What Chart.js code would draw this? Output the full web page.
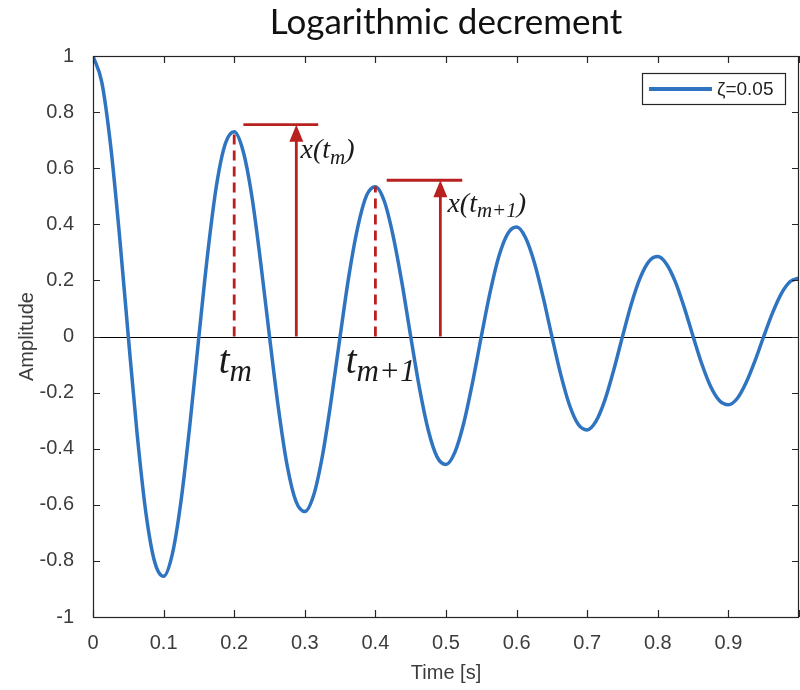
<!DOCTYPE html>
<html>
<head>
<meta charset="utf-8">
<script src="https://cdn.jsdelivr.net/npm/chart.js@4/dist/chart.umd.min.js"></script>
<style>
  html, body { margin: 0; padding: 0; background: #fff; }
  #wrap { width: 800px; height: 690px; }
</style>
</head>
<body>
<div id="wrap"><canvas id="grafico" width="800" height="690"></canvas></div>
<script>
// datos
const tiempo = [0, 0.0125, 0.025, 0.0375, 0.05, 0.0625, 0.075, 0.0875, 0.1, 0.1125,
  0.125, 0.1375, 0.15, 0.1625, 0.175, 0.1875, 0.2, 0.2125, 0.225, 0.2375,
  0.25, 0.2625, 0.275, 0.2875, 0.3, 0.3125, 0.325, 0.3375, 0.35, 0.3625,
  0.375, 0.3875, 0.4, 0.4125, 0.425, 0.4375, 0.45, 0.4625, 0.475, 0.4875,
  0.5, 0.5125, 0.525, 0.5375, 0.55, 0.5625, 0.575, 0.5875, 0.6, 0.6125,
  0.625, 0.6375, 0.65, 0.6625, 0.675, 0.6875, 0.7, 0.7125, 0.725, 0.7375,
  0.75, 0.7625, 0.775, 0.7875, 0.8, 0.8125, 0.825, 0.8375, 0.85, 0.8625,
  0.875, 0.8875, 0.9, 0.9125, 0.925, 0.9375, 0.95, 0.9625, 0.975, 0.9875, 1.0];
const amplitud = [1.00, 0.906, 0.68, 0.361, 0.00, -0.347, -0.63, -0.805, -0.855, -0.774,
  -0.58, -0.308, 0.00, 0.297, 0.54, 0.688, 0.73, 0.662, 0.50, 0.264,
  0.00, -0.253, -0.46, -0.588, -0.624, -0.566, -0.425, -0.225, 0.00, 0.217,
  0.39, 0.503, 0.534, 0.483, 0.36, 0.193, 0.00, -0.185, -0.335, -0.43,
  -0.456, -0.413, -0.31, -0.165, 0.00, 0.158, 0.287, 0.367, 0.39, 0.353,
  0.265, 0.141, 0.00, -0.135, -0.245, -0.314, -0.333, -0.302, -0.227, -0.12,
  0.00, 0.116, 0.209, 0.268, 0.285, 0.258, 0.194, 0.103, 0.00, -0.099,
  -0.179, -0.229, -0.243, -0.221, -0.165, -0.088, 0.00, 0.084, 0.153, 0.196, 0.208];
const serieLabel = 'ζ=0.05';

// anotaciones (en unidades de los ejes)
const picoT = [0.2, 0.4];
const picoX = [0.73, 0.535];
const flechaT = [0.288, 0.492];
const flechaTope = [0.755, 0.557];
const topeDesde = [0.213, 0.416];
const topeHasta = [0.319, 0.523];
const etiquetaX = [['x(t', 'm', ')'], ['x(t', 'm+1', ')']];
const etiquetaXpos = [[0.294, 0.635], [0.502, 0.445]];
const etiquetaT = [['t', 'm'], ['t', 'm+1']];
const etiquetaTpos = [[0.178, -0.13], [0.358, -0.13]];

const rojo = '#b8211f';
const azul = '#2f74c0';
const gris = '#3c3c3c';
const fuenteEje = '"Liberation Sans Narrow", "Liberation Sans", Arial, sans-serif';
const fuenteSerif = '"Liberation Serif", "DejaVu Serif", serif';

function fmt(v) {
  return String(Math.round(v * 10) / 10);
}

// texto con subindice
function textoSub(ctx, partes, x, y, tam, tamSub) {
  ctx.font = 'italic ' + tam + 'px ' + fuenteSerif;
  ctx.fillText(partes[0], x, y);
  x += ctx.measureText(partes[0]).width;
  ctx.font = 'italic ' + tamSub + 'px ' + fuenteSerif;
  ctx.fillText(partes[1], x, y + tam * 0.2);
  x += ctx.measureText(partes[1]).width;
  if (partes[2]) {
    ctx.font = 'italic ' + tam + 'px ' + fuenteSerif;
    ctx.fillText(partes[2], x, y);
  }
}

const marcoPlugin = {
  id: 'marco',
  beforeDatasetsDraw(chart) {
    const { ctx, chartArea: a, scales: { y } } = chart;
    ctx.save();
    // linea del cero
    ctx.strokeStyle = '#000';
    ctx.lineWidth = 1;
    ctx.beginPath();
    ctx.moveTo(a.left, Math.round(y.getPixelForValue(0)) + 0.5);
    ctx.lineTo(a.right, Math.round(y.getPixelForValue(0)) + 0.5);
    ctx.stroke();
    ctx.restore();
  },
  afterDatasetsDraw(chart) {
    const { ctx, chartArea: a, scales: { x, y } } = chart;
    ctx.save();
    ctx.strokeStyle = '#262626';
    ctx.lineWidth = 1.2;
    ctx.strokeRect(a.left + 0.5, a.top + 0.5, a.right - a.left - 1, a.bottom - a.top);
    const largo = 7;
    ctx.beginPath();
    x.ticks.forEach(t => {
      const px = Math.round(x.getPixelForValue(t.value)) + 0.5;
      ctx.moveTo(px, a.bottom); ctx.lineTo(px, a.bottom - largo);
      ctx.moveTo(px, a.top); ctx.lineTo(px, a.top + largo);
    });
    y.ticks.forEach(t => {
      const py = Math.round(y.getPixelForValue(t.value)) + 0.5;
      ctx.moveTo(a.left, py); ctx.lineTo(a.left + largo, py);
      ctx.moveTo(a.right, py); ctx.lineTo(a.right - largo, py);
    });
    ctx.stroke();

    // anotaciones rojas
    ctx.strokeStyle = rojo;
    ctx.fillStyle = rojo;
    ctx.lineWidth = 2.8;
    ctx.setLineDash([10, 6]);
    picoT.forEach((t, i) => {
      const px = x.getPixelForValue(t);
      ctx.beginPath();
      ctx.moveTo(px, y.getPixelForValue(0));
      ctx.lineTo(px, y.getPixelForValue(picoX[i]));
      ctx.stroke();
    });
    ctx.setLineDash([]);
    flechaT.forEach((t, i) => {
      const px = x.getPixelForValue(t);
      const pTop = y.getPixelForValue(flechaTope[i]);
      ctx.beginPath();
      ctx.moveTo(px, y.getPixelForValue(0));
      ctx.lineTo(px, pTop + 10);
      ctx.stroke();
      ctx.beginPath();
      ctx.moveTo(px, pTop);
      ctx.lineTo(px - 7, pTop + 17);
      ctx.lineTo(px + 7, pTop + 17);
      ctx.closePath();
      ctx.fill();
      ctx.beginPath();
      ctx.moveTo(x.getPixelForValue(topeDesde[i]), pTop);
      ctx.lineTo(x.getPixelForValue(topeHasta[i]), pTop);
      ctx.stroke();
    });

    ctx.fillStyle = '#1a1a1a';
    ctx.textBaseline = 'alphabetic';
    ctx.textAlign = 'left';
    etiquetaX.forEach((p, i) => {
      textoSub(ctx, p, x.getPixelForValue(etiquetaXpos[i][0]), y.getPixelForValue(etiquetaXpos[i][1]), 28, 21);
    });
    etiquetaT.forEach((p, i) => {
      textoSub(ctx, p, x.getPixelForValue(etiquetaTpos[i][0]), y.getPixelForValue(etiquetaTpos[i][1]), 39, 31);
    });

    // leyenda
    const bw = 143, bh = 31;
    const bx = a.right - 14 - bw, by = a.top + 17;
    ctx.fillStyle = '#fff';
    ctx.fillRect(bx, by, bw, bh);
    ctx.strokeStyle = '#262626';
    ctx.lineWidth = 1.2;
    ctx.strokeRect(bx + 0.5, by + 0.5, bw, bh);
    ctx.strokeStyle = azul;
    ctx.lineWidth = 4;
    ctx.beginPath();
    ctx.moveTo(bx + 7, by + bh / 2 + 0.5);
    ctx.lineTo(bx + 70, by + bh / 2 + 0.5);
    ctx.stroke();
    ctx.fillStyle = '#222';
    ctx.font = '19px ' + fuenteEje;
    ctx.textBaseline = 'middle';
    ctx.fillText(chart.data.datasets[0].label, bx + 75, by + bh / 2 + 1);
    ctx.restore();
  }
};

const puntos = tiempo.map((t, i) => ({ x: t, y: amplitud[i] }));

new Chart(document.getElementById('grafico').getContext('2d'), {
  type: 'line',
  data: {
    datasets: [{
      label: serieLabel,
      data: puntos,
      borderColor: azul,
      borderWidth: 3.5,
      pointRadius: 0,
      cubicInterpolationMode: 'monotone',
      fill: false
    }]
  },
  options: {
    responsive: false,
    animation: false,
    layout: { padding: { left: 0, right: 1, top: 0, bottom: 0 } },
    plugins: {
      legend: { display: false },
      tooltip: { enabled: false },
      title: {
        display: true,
        fullSize: false,
        text: 'Logarithmic decrement',
        color: '#111',
        font: { family: 'Lato, "Open Sans", sans-serif', size: 35, weight: 'normal' },
        padding: { top: 2, bottom: 12 }
      }
    },
    scales: {
      x: {
        type: 'linear',
        min: 0,
        max: 1,
        ticks: {
          stepSize: 0.1,
          color: gris,
          padding: 6,
          maxRotation: 0,
          font: { family: fuenteEje, size: 20 },
          callback: v => Math.abs(v - 1) < 1e-9 ? '' : fmt(v)
        },
        grid: { display: false },
        border: { display: false },
        title: {
          display: true,
          text: 'Time [s]',
          color: gris,
          font: { family: fuenteEje, size: 20 },
          padding: { top: 0, bottom: 5 }
        },
        afterFit: s => { s.height = 73; s.paddingRight = 0; s.paddingLeft = 0; }
      },
      y: {
        min: -1,
        max: 1,
        ticks: {
          stepSize: 0.2,
          color: gris,
          padding: 11,
          font: { family: fuenteEje, size: 20 },
          callback: v => fmt(v)
        },
        grid: { display: false },
        border: { display: false },
        title: {
          display: true,
          text: 'Amplitude',
          color: gris,
          font: { family: fuenteEje, size: 20 },
          padding: { top: 15, bottom: 0 }
        },
        afterFit: s => { s.width = 93; }
      }
    }
  },
  plugins: [marcoPlugin]
});
</script>
</body>
</html>
